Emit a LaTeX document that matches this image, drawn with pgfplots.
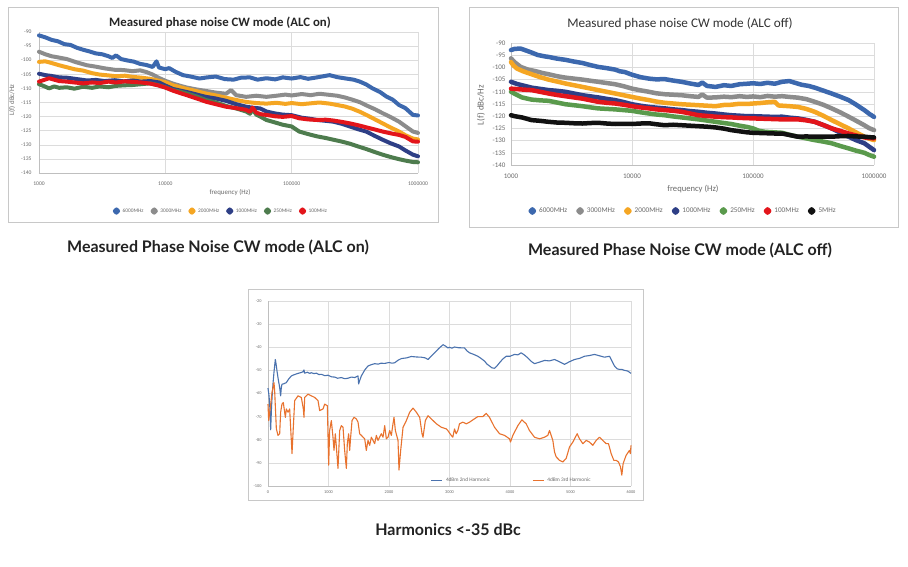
\documentclass[border=0pt]{standalone}
\usepackage{fontspec}
\setmainfont{Carlito}
\newfontfamily\capfont{Lato}
\usepackage{pgfplots}
\pgfplotsset{compat=1.18}
\definecolor{c6000}{HTML}{3C68AE}
\definecolor{c3000}{HTML}{8C8C8C}
\definecolor{c2000}{HTML}{F5A623}
\definecolor{c1000}{HTML}{2E3F86}
\definecolor{c250a}{HTML}{4E7C4E}
\definecolor{c250b}{HTML}{5A9A4C}
\definecolor{c100}{HTML}{E3151B}
\definecolor{c5}{HTML}{111111}
\definecolor{hblue}{HTML}{4A72AE}
\definecolor{horange}{HTML}{E8722E}
\definecolor{gridc}{HTML}{DCDCDC}
\definecolor{axc}{HTML}{BFBFBF}
\definecolor{framec}{HTML}{C8C8C8}
\definecolor{tickc}{HTML}{6A6A6A}
\definecolor{capc}{HTML}{222222}
\pgfplotsset{
  base/.style={scale only axis, clip=false,
    grid=major, major grid style={draw=gridc, line width=0.5pt},
    axis lines=left, axis line style={-, draw=axc, line width=0.6pt},
    major tick length=0pt,
    /pgf/number format/assume math mode=true,
    /pgf/number format/1000 sep={},
    tick label style={text=tickc},
    legend columns=-1,
  },
  pn/.style={base, xmin=3, xmax=6, ymin=-140, ymax=-90,
    xtick={3,4,5,6}, xticklabels={1000,10000,100000,1000000},
    ytick={-140,-135,...,-90},
    every axis plot/.append style={line width=4pt, line join=round, line cap=round, mark=none},
    legend image code/.code={\fill[##1] (0pt,0pt) circle (1.6pt);},
  },
}
\begin{document}
\begin{tikzpicture}[x=1pt,y=1pt]
\path[use as bounding box, fill=white] (0,0) rectangle (908,567);
% frames
\draw[framec, line width=0.8pt] (8,345) rectangle (438,560);
\draw[framec, line width=0.8pt] (469,340) rectangle (898,560);
\draw[framec, line width=0.8pt] (248,67) rectangle (643,278);
% titles
\node[font=\fontsize{12.8}{14}\selectfont\bfseries, text=black!85] at (220,544) {Measured phase noise CW mode (ALC on)};
\node[font=\fontsize{13.2}{15}\selectfont, text=black!80] at (680,543) {Measured phase noise CW mode (ALC off)};
% axis labels
\node[font=\fontsize{6.9}{8}\selectfont, text=tickc] at (230,374) {frequency (Hz)};
\node[font=\fontsize{6.9}{8}\selectfont, text=tickc, rotate=90] at (12,467) {L(f) dBc/Hz};
\node[font=\fontsize{8.6}{10}\selectfont, text=tickc] at (693,378) {frequency (Hz)};
\node[font=\fontsize{9}{10}\selectfont, text=tickc, rotate=90] at (481,462) {L(f) dBc/Hz};
% captions
\node[font=\capfont\fontsize{16}{18}\selectfont\bfseries, text=capc] at (218,320) {Measured Phase Noise CW mode (ALC on)};
\node[font=\capfont\fontsize{16}{18}\selectfont\bfseries, text=capc] at (680,317) {Measured Phase Noise CW mode (ALC off)};
\node[font=\capfont\fontsize{16}{18}\selectfont\bfseries, text=capc] at (448,37) {Harmonics <-35 dBc};

% ---------------- Panel 1: ALC on
\begin{axis}[pn, at={(39pt,394pt)}, anchor=south west, width=379pt, height=141pt,
  tick label style={font=\fontsize{5.6}{6}\selectfont},
  xticklabel style={yshift=-5pt},
  yticklabel style={xshift=-4pt},
  legend style={at={(0.48,-0.27)}, anchor=center, draw=none, fill=none,
    font=\fontsize{5.4}{6}\selectfont, text=tickc,
    /tikz/every even column/.append style={column sep=5pt},
    /tikz/every odd column/.append style={column sep=0.5pt}}]
\addplot[c6000] coordinates {(3.00,-91.2)(3.05,-91.9)(3.10,-92.8)(3.15,-93.3)(3.20,-94.3)(3.25,-94.6)(3.30,-95.6)(3.35,-96.3)(3.40,-96.9)(3.45,-97.6)(3.50,-97.9)(3.55,-98.6)(3.58,-99.2)(3.61,-98.3)(3.65,-99.6)(3.70,-100.1)(3.75,-100.5)(3.80,-101.3)(3.85,-101.7)(3.90,-102.4)(3.93,-100.4)(3.95,-102.6)(4.00,-103.2)(4.03,-102.8)(4.08,-104.1)(4.14,-105.3)(4.20,-105.8)(4.27,-106.5)(4.33,-106.1)(4.40,-105.8)(4.47,-106.7)(4.54,-106.9)(4.60,-106.2)(4.67,-106.1)(4.73,-106.9)(4.80,-106.4)(4.87,-106.8)(4.93,-106.1)(5.00,-106.5)(5.07,-106.0)(5.13,-106.6)(5.20,-106.1)(5.25,-105.7)(5.30,-105.3)(5.36,-106.0)(5.43,-106.5)(5.49,-106.9)(5.54,-107.6)(5.59,-108.6)(5.64,-110.0)(5.70,-111.3)(5.75,-112.9)(5.80,-114.0)(5.85,-115.9)(5.90,-117.0)(5.96,-119.4)(6.00,-119.6)};
\addlegendentry{6000MHz}
\addplot[c3000] coordinates {(3.00,-97.0)(3.05,-97.9)(3.10,-98.6)(3.15,-99.0)(3.22,-99.6)(3.30,-100.8)(3.38,-101.8)(3.45,-102.3)(3.52,-102.9)(3.60,-103.4)(3.67,-103.5)(3.74,-103.9)(3.80,-103.6)(3.85,-104.2)(3.90,-105.1)(3.95,-106.3)(4.00,-107.3)(4.06,-108.3)(4.12,-109.1)(4.17,-109.7)(4.25,-110.4)(4.32,-110.9)(4.40,-111.5)(4.48,-111.9)(4.52,-110.6)(4.56,-112.4)(4.64,-113.0)(4.72,-112.6)(4.80,-113.0)(4.88,-112.6)(4.95,-112.2)(5.00,-112.5)(5.08,-112.0)(5.15,-112.4)(5.22,-111.9)(5.30,-112.3)(5.36,-112.6)(5.42,-113.2)(5.48,-114.0)(5.54,-114.9)(5.60,-116.2)(5.66,-117.4)(5.72,-118.8)(5.78,-120.1)(5.85,-121.8)(5.90,-123.4)(5.96,-125.3)(6.00,-125.8)};
\addlegendentry{3000MHz}
\addplot[c2000] coordinates {(3.00,-100.6)(3.05,-100.4)(3.10,-101.0)(3.16,-101.8)(3.22,-102.5)(3.28,-103.2)(3.35,-103.7)(3.42,-104.6)(3.48,-105.1)(3.55,-105.4)(3.61,-105.7)(3.68,-105.5)(3.74,-105.9)(3.81,-106.2)(3.88,-106.6)(3.94,-107.2)(4.00,-107.8)(4.06,-108.9)(4.12,-109.6)(4.17,-110.2)(4.25,-111.0)(4.32,-111.8)(4.40,-112.5)(4.48,-113.3)(4.56,-114.1)(4.64,-114.8)(4.72,-115.2)(4.80,-115.4)(4.88,-115.1)(4.95,-115.5)(5.00,-115.2)(5.08,-115.6)(5.15,-115.3)(5.22,-115.0)(5.30,-115.4)(5.36,-115.9)(5.42,-116.4)(5.48,-117.2)(5.54,-118.3)(5.60,-119.6)(5.66,-121.0)(5.72,-122.4)(5.78,-123.8)(5.85,-125.3)(5.90,-126.6)(5.96,-127.8)(6.00,-128.1)};
\addlegendentry{2000MHz}
\addplot[c1000] coordinates {(3.00,-104.8)(3.05,-105.3)(3.10,-105.6)(3.16,-106.1)(3.22,-106.2)(3.30,-106.7)(3.38,-107.2)(3.45,-107.0)(3.52,-107.4)(3.60,-107.1)(3.67,-107.5)(3.74,-107.2)(3.81,-107.6)(3.88,-107.4)(3.95,-107.9)(4.00,-109.0)(4.06,-110.2)(4.12,-110.8)(4.17,-111.3)(4.25,-112.2)(4.32,-113.0)(4.40,-113.6)(4.48,-114.4)(4.56,-115.6)(4.64,-116.5)(4.70,-116.9)(4.75,-117.1)(4.80,-118.2)(4.87,-118.9)(4.93,-119.3)(5.00,-119.5)(5.08,-120.4)(5.15,-120.8)(5.20,-121.2)(5.27,-121.5)(5.33,-121.8)(5.40,-122.6)(5.46,-123.5)(5.52,-124.4)(5.59,-125.3)(5.66,-126.9)(5.72,-128.2)(5.78,-129.4)(5.85,-130.6)(5.90,-132.0)(5.96,-133.5)(6.00,-134.1)};
\addlegendentry{1000MHz}
\addplot[c250a] coordinates {(3.00,-108.5)(3.04,-109.2)(3.08,-110.0)(3.12,-109.3)(3.16,-109.8)(3.22,-109.6)(3.28,-110.1)(3.35,-109.4)(3.42,-109.8)(3.48,-109.3)(3.55,-109.6)(3.61,-109.1)(3.68,-108.9)(3.74,-108.8)(3.81,-108.5)(3.88,-108.2)(3.94,-108.8)(4.00,-109.6)(4.06,-110.6)(4.12,-111.2)(4.17,-111.8)(4.25,-112.9)(4.32,-114.1)(4.40,-115.0)(4.48,-116.2)(4.56,-117.1)(4.64,-118.2)(4.67,-119.0)(4.69,-117.4)(4.72,-119.3)(4.76,-120.2)(4.80,-121.2)(4.87,-122.1)(4.93,-122.9)(5.00,-123.5)(5.06,-125.3)(5.13,-126.2)(5.20,-127.0)(5.27,-127.6)(5.33,-128.2)(5.40,-128.9)(5.46,-129.6)(5.52,-130.5)(5.59,-131.5)(5.66,-132.6)(5.72,-133.5)(5.78,-134.3)(5.85,-135.1)(5.90,-135.6)(5.96,-136.1)(6.00,-136.2)};
\addlegendentry{250MHz}
\addplot[c100] coordinates {(3.00,-107.6)(3.04,-107.0)(3.08,-106.4)(3.12,-106.9)(3.16,-107.4)(3.22,-107.6)(3.28,-107.9)(3.35,-108.2)(3.42,-107.9)(3.48,-108.1)(3.55,-107.6)(3.61,-107.9)(3.68,-107.5)(3.74,-107.7)(3.81,-107.9)(3.88,-108.3)(3.94,-108.9)(4.00,-109.7)(4.06,-110.8)(4.12,-111.7)(4.17,-112.4)(4.25,-113.6)(4.32,-114.7)(4.40,-115.6)(4.48,-116.5)(4.56,-117.0)(4.64,-117.6)(4.67,-118.3)(4.69,-116.8)(4.72,-118.6)(4.76,-119.2)(4.80,-119.4)(4.87,-119.9)(4.93,-120.1)(5.00,-119.8)(5.06,-120.6)(5.13,-121.0)(5.20,-121.2)(5.27,-121.1)(5.33,-121.4)(5.40,-121.9)(5.46,-122.4)(5.52,-123.0)(5.59,-123.8)(5.66,-124.6)(5.72,-125.3)(5.78,-125.9)(5.85,-126.5)(5.90,-127.2)(5.96,-128.8)(6.00,-128.9)};
\addlegendentry{100MHz}
\end{axis}

% ---------------- Panel 2: ALC off
\begin{axis}[pn, at={(511pt,402pt)}, anchor=south west, width=363pt, height=122pt,
  tick label style={font=\fontsize{7}{8}\selectfont},
  xticklabel style={yshift=-5pt},
  yticklabel style={xshift=-2pt},
  every axis plot/.append style={line width=4.5pt},
  legend style={at={(0.474,-0.377)}, anchor=center, draw=none, fill=none,
    font=\fontsize{7.2}{8}\selectfont, text=tickc,
    /tikz/every even column/.append style={column sep=7pt},
    /tikz/every odd column/.append style={column sep=1pt}}]
\addplot[c6000] coordinates {(3.00,-92.9)(3.03,-92.4)(3.08,-92.3)(3.12,-93.0)(3.17,-93.9)(3.22,-94.9)(3.28,-95.5)(3.31,-95.7)(3.38,-96.4)(3.45,-96.9)(3.52,-97.6)(3.59,-98.2)(3.66,-99.1)(3.72,-99.8)(3.79,-100.3)(3.86,-100.9)(3.90,-101.6)(3.94,-101.9)(4.00,-103.0)(4.07,-104.0)(4.14,-104.6)(4.20,-104.9)(4.27,-104.8)(4.34,-105.4)(4.41,-105.9)(4.48,-106.6)(4.55,-107.2)(4.58,-106.2)(4.62,-107.6)(4.69,-108.0)(4.76,-107.3)(4.82,-107.6)(4.89,-106.9)(4.95,-106.7)(5.00,-106.5)(5.06,-106.8)(5.12,-106.3)(5.18,-106.7)(5.24,-105.9)(5.30,-105.6)(5.34,-106.2)(5.40,-107.1)(5.46,-107.6)(5.51,-108.3)(5.58,-109.5)(5.65,-110.7)(5.72,-112.0)(5.79,-113.4)(5.85,-115.2)(5.92,-117.5)(5.96,-119.0)(6.00,-120.3)};
\addlegendentry{6000MHz}
\addplot[c3000] coordinates {(3.00,-96.3)(3.03,-97.9)(3.08,-99.8)(3.14,-100.9)(3.20,-101.5)(3.26,-102.3)(3.31,-102.8)(3.38,-103.6)(3.45,-104.2)(3.52,-104.6)(3.59,-105.0)(3.66,-105.5)(3.72,-105.9)(3.79,-106.4)(3.86,-106.9)(3.93,-107.7)(4.00,-108.7)(4.07,-109.4)(4.14,-110.0)(4.20,-110.6)(4.27,-111.0)(4.34,-111.2)(4.41,-111.4)(4.48,-111.8)(4.55,-112.1)(4.58,-111.1)(4.62,-112.4)(4.69,-112.3)(4.76,-112.0)(4.82,-112.2)(4.89,-111.8)(4.95,-112.1)(5.00,-111.9)(5.06,-112.2)(5.12,-111.7)(5.18,-112.0)(5.24,-111.8)(5.30,-112.1)(5.37,-112.4)(5.44,-113.0)(5.51,-114.1)(5.58,-115.3)(5.65,-116.8)(5.72,-118.4)(5.79,-120.2)(5.85,-121.8)(5.92,-123.7)(5.96,-124.9)(6.00,-125.7)};
\addlegendentry{3000MHz}
\addplot[c2000] coordinates {(3.00,-97.8)(3.02,-99.2)(3.05,-100.5)(3.10,-101.6)(3.17,-102.8)(3.24,-104.0)(3.31,-105.0)(3.38,-105.8)(3.45,-106.6)(3.52,-107.3)(3.59,-108.0)(3.66,-108.7)(3.72,-109.3)(3.79,-110.0)(3.86,-110.7)(3.93,-111.4)(4.00,-112.1)(4.07,-112.8)(4.14,-113.4)(4.20,-114.0)(4.27,-114.5)(4.34,-114.8)(4.41,-115.1)(4.48,-115.3)(4.55,-115.5)(4.62,-115.7)(4.69,-115.9)(4.76,-115.4)(4.82,-115.3)(4.89,-114.9)(4.95,-115.0)(5.00,-114.8)(5.06,-114.6)(5.12,-114.3)(5.18,-114.1)(5.21,-115.6)(5.24,-115.7)(5.30,-115.9)(5.37,-116.2)(5.44,-117.0)(5.51,-118.2)(5.58,-119.8)(5.65,-121.6)(5.72,-123.3)(5.79,-125.0)(5.85,-126.6)(5.92,-128.4)(5.96,-129.2)(6.00,-129.8)};
\addlegendentry{2000MHz}
\addplot[c1000] coordinates {(3.00,-105.9)(3.05,-106.8)(3.09,-107.3)(3.17,-108.3)(3.24,-108.8)(3.31,-109.3)(3.38,-109.6)(3.45,-110.0)(3.52,-110.7)(3.59,-111.4)(3.66,-111.9)(3.72,-112.3)(3.79,-112.9)(3.86,-113.4)(3.93,-114.2)(4.00,-115.1)(4.07,-115.7)(4.14,-116.2)(4.20,-116.5)(4.27,-116.8)(4.34,-117.2)(4.41,-117.5)(4.48,-117.9)(4.55,-118.2)(4.62,-118.6)(4.69,-118.9)(4.76,-119.3)(4.82,-119.6)(4.89,-119.8)(4.95,-120.0)(5.00,-120.0)(5.06,-120.1)(5.12,-120.2)(5.18,-120.3)(5.24,-120.2)(5.30,-120.6)(5.37,-120.9)(5.44,-121.5)(5.51,-122.3)(5.58,-123.6)(5.65,-125.0)(5.72,-126.7)(5.79,-128.4)(5.85,-129.8)(5.92,-131.1)(5.96,-132.5)(6.00,-133.9)};
\addlegendentry{1000MHz}
\addplot[c250b] coordinates {(3.00,-110.0)(3.05,-111.3)(3.09,-112.3)(3.17,-113.2)(3.24,-113.5)(3.31,-113.7)(3.38,-114.4)(3.45,-115.1)(3.52,-115.5)(3.59,-115.9)(3.66,-116.4)(3.72,-116.8)(3.79,-117.0)(3.86,-117.2)(3.93,-117.5)(4.00,-117.8)(4.07,-118.4)(4.14,-118.9)(4.20,-119.3)(4.27,-119.6)(4.34,-120.1)(4.41,-120.5)(4.48,-120.9)(4.55,-121.3)(4.62,-121.8)(4.69,-122.3)(4.76,-122.8)(4.82,-123.2)(4.89,-123.9)(4.95,-124.4)(5.00,-125.0)(5.05,-126.0)(5.10,-126.4)(5.17,-126.6)(5.24,-126.8)(5.30,-127.6)(5.37,-128.4)(5.44,-129.1)(5.51,-129.8)(5.58,-130.4)(5.65,-131.1)(5.72,-132.2)(5.79,-133.2)(5.85,-134.1)(5.92,-135.0)(5.96,-135.9)(6.00,-136.6)};
\addlegendentry{250MHz}
\addplot[c100] coordinates {(3.00,-108.7)(3.05,-108.9)(3.10,-109.1)(3.17,-109.3)(3.24,-110.0)(3.31,-110.7)(3.38,-111.3)(3.45,-111.8)(3.52,-112.3)(3.59,-112.8)(3.66,-113.5)(3.72,-114.1)(3.79,-114.5)(3.86,-114.8)(3.93,-115.3)(4.00,-115.9)(4.07,-116.4)(4.14,-116.8)(4.20,-117.2)(4.27,-117.5)(4.34,-117.8)(4.41,-118.2)(4.48,-118.9)(4.55,-119.6)(4.62,-119.9)(4.69,-120.2)(4.76,-120.4)(4.82,-120.5)(4.89,-120.7)(4.95,-120.8)(5.00,-120.9)(5.06,-121.0)(5.12,-121.1)(5.18,-121.2)(5.24,-121.3)(5.30,-121.3)(5.37,-121.3)(5.44,-121.7)(5.51,-122.3)(5.58,-123.6)(5.65,-125.0)(5.72,-126.0)(5.79,-127.1)(5.85,-127.9)(5.92,-128.7)(5.96,-128.9)(6.00,-129.1)};
\addlegendentry{100MHz}
\addplot[c5] coordinates {(3.00,-119.6)(3.03,-120.0)(3.09,-120.5)(3.17,-121.6)(3.24,-121.9)(3.31,-122.3)(3.38,-122.6)(3.45,-122.7)(3.52,-122.9)(3.59,-123.0)(3.66,-122.8)(3.72,-122.7)(3.79,-123.0)(3.86,-123.2)(3.93,-123.1)(4.00,-123.2)(4.07,-123.0)(4.14,-122.9)(4.20,-123.3)(4.27,-123.7)(4.34,-123.5)(4.41,-123.7)(4.48,-123.9)(4.55,-124.1)(4.62,-124.3)(4.69,-124.6)(4.76,-125.1)(4.82,-125.7)(4.89,-126.2)(4.95,-126.6)(5.00,-126.8)(5.06,-126.9)(5.12,-127.0)(5.18,-127.1)(5.24,-127.1)(5.30,-127.7)(5.37,-128.4)(5.44,-128.3)(5.51,-128.4)(5.58,-128.4)(5.65,-128.4)(5.72,-128.2)(5.79,-128.1)(5.85,-128.3)(5.92,-128.4)(5.96,-128.6)(6.00,-128.7)};
\addlegendentry{5MHz}
\end{axis}

% ---------------- Panel 3: Harmonics
\begin{axis}[base, at={(268pt,81pt)}, anchor=south west, width=363pt, height=185pt,
  xmin=0, xmax=6000, ymin=-100, ymax=-20,
  xtick={0,1000,...,6000}, ytick={-100,-90,...,-20},
  tick label style={font=\fontsize{4.3}{5}\selectfont},
  xticklabel style={yshift=-1pt},
  yticklabel style={xshift=-3pt},
  every axis plot/.append style={line width=1.1pt, line join=round, mark=none},
  legend image code/.code={\draw[#1, line width=1.1pt] (0pt,0pt) -- (11pt,0pt);},
  legend style={at={(0.44,0.032)}, anchor=west, draw=none, fill=none,
    font=\fontsize{5.3}{6}\selectfont, text=tickc,
    /tikz/every even column/.append style={column sep=40pt},
    /tikz/every odd column/.append style={column sep=1pt}}]
\addplot[hblue] coordinates {(0,-57.7)(15,-60.5)(28,-64.6)(44,-75.7)(58,-66)(70,-60.5)(85,-55)(100,-50.5)(121,-45.3)(135,-47.5)(149,-50.3)(170,-54)(193,-57.4)(209,-61)(220,-57.5)(231,-56)(260,-55.8)(303,-55.3)(340,-53.8)(386,-52.4)(430,-51.9)(496,-51.3)(540,-51.0)(580,-50.6)(595,-49.8)(605,-51.2)(650,-50.8)(690,-51.3)(716,-51)(760,-51.4)(800,-51.2)(840,-51.8)(882,-51.7)(940,-52.3)(992,-52.1)(1050,-52.8)(1102,-52.9)(1150,-53.4)(1212,-53.1)(1270,-53.6)(1322,-53.4)(1380,-52.9)(1433,-53.1)(1488,-52.4)(1498,-55.9)(1510,-54.8)(1543,-52.4)(1600,-49.8)(1653,-48.1)(1700,-47.6)(1763,-47.1)(1820,-47.3)(1870,-46.9)(1928,-47)(2000,-46.6)(2050,-46.9)(2094,-46.7)(2150,-45.6)(2204,-44.9)(2290,-44.6)(2369,-44)(2450,-44.2)(2534,-44.3)(2600,-44.6)(2645,-45.3)(2700,-43.8)(2755,-42.4)(2820,-40.6)(2893,-38.9)(2940,-39.6)(2973,-40.3)(3000,-40.0)(3040,-40.4)(3083,-39.9)(3150,-40.2)(3248,-40.3)(3290,-41.6)(3331,-42.4)(3400,-43.1)(3469,-43.9)(3520,-44.8)(3579,-46)(3620,-47.3)(3662,-48.1)(3700,-48.9)(3744,-49.1)(3790,-47.9)(3827,-46.7)(3880,-45.1)(3937,-43.9)(4000,-43.9)(4075,-43.1)(4130,-43.3)(4185,-42.4)(4240,-43.4)(4295,-44.6)(4350,-46.1)(4405,-47.1)(4480,-46.5)(4570,-45.7)(4650,-45.9)(4736,-45.3)(4820,-46.3)(4901,-47.4)(4980,-46.3)(5066,-45.3)(5150,-44.8)(5231,-43.9)(5310,-43.6)(5397,-43.1)(5480,-43.7)(5562,-44.3)(5645,-43.9)(5690,-46.2)(5727,-48.1)(5770,-49.3)(5810,-49.6)(5850,-49.6)(5893,-50)(5948,-50.3)(6000,-51.3)};
\addlegendentry{4dBm 2nd Harmonic}
\addplot[horange] coordinates {(0,-64.6)(11,-71.7)(39,-66)(66,-59.6)(99,-55.3)(110,-58.9)(138,-75.3)(165,-78.1)(193,-77.4)(209,-68.1)(231,-64.6)(253,-63.9)(287,-70.3)(303,-66.7)(331,-68.1)(358,-66.7)(397,-86)(413,-77.4)(441,-63.1)(496,-61)(551,-61.7)(584,-66.7)(595,-70.3)(606,-61.7)(661,-60.3)(716,-61)(771,-61.7)(827,-63.1)(854,-67.4)(909,-66.7)(937,-64.6)(981,-65.3)(1003,-91)(1019,-76)(1047,-71.7)(1074,-78.9)(1091,-84.6)(1113,-77.4)(1130,-83.1)(1157,-92.4)(1185,-76)(1212,-73.9)(1240,-74.6)(1267,-84.6)(1295,-92.4)(1311,-81.7)(1333,-77.4)(1350,-84.6)(1366,-78.9)(1389,-71.7)(1422,-70.3)(1460,-71)(1488,-72.4)(1515,-77.4)(1543,-78.1)(1598,-79.6)(1625,-84.6)(1653,-80.3)(1681,-82.4)(1708,-78.9)(1763,-81.7)(1791,-78.1)(1818,-80.3)(1873,-77.4)(1901,-78.9)(1929,-73.9)(1956,-79.6)(1984,-78.9)(2011,-76)(2039,-78.1)(2066,-73.1)(2083,-70.3)(2105,-76)(2149,-80.3)(2165,-93.1)(2193,-84.6)(2232,-74.6)(2287,-71.7)(2342,-68.1)(2397,-66.3)(2452,-68.1)(2507,-70.3)(2546,-77.4)(2562,-78.9)(2601,-71.7)(2645,-69.6)(2700,-71)(2783,-73.1)(2865,-74.6)(2948,-75.3)(2972,-76)(3028,-78.1)(3055,-78.9)(3083,-75.3)(3110,-77.4)(3138,-76)(3165,-73.1)(3220,-72.4)(3276,-73.1)(3331,-72.4)(3386,-71.4)(3468,-70)(3551,-70)(3606,-68.6)(3661,-70.3)(3744,-74.6)(3827,-77.4)(3909,-78.1)(3992,-79.6)(4008,-81)(4047,-78.1)(4130,-73.9)(4196,-71.4)(4267,-73.1)(4322,-76)(4405,-78.9)(4488,-79.6)(4570,-78.9)(4625,-78.1)(4653,-76)(4708,-80.3)(4736,-85.3)(4763,-87.4)(4818,-88.9)(4873,-89.6)(4928,-88.1)(4984,-83.1)(5039,-81)(5110,-77.4)(5149,-79.6)(5204,-81.7)(5259,-80.3)(5314,-81)(5369,-82.4)(5424,-80.3)(5479,-78.9)(5534,-80.3)(5590,-81.7)(5628,-81.7)(5672,-86)(5716,-88.9)(5755,-88.9)(5793,-89.6)(5826,-91.7)(5848,-95.3)(5870,-90.3)(5920,-86.7)(5975,-84.6)(5990,-86)(6000,-82.4)};
\addlegendentry{4dBm 3rd Harmonic}
\end{axis}
\end{tikzpicture}
\end{document}
